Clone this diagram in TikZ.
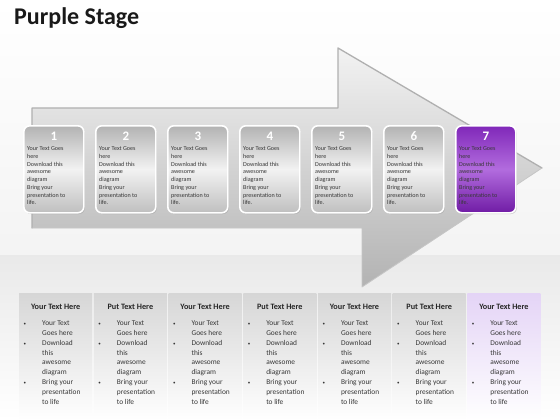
\documentclass[tikz,border=0pt]{standalone}
\usepackage{fontspec}
\setmainfont{Carlito}
\usetikzlibrary{shadows}
\definecolor{txtgrey}{RGB}{55,55,55}
\definecolor{purptop}{RGB}{128,40,185}
\definecolor{purpmid}{RGB}{178,108,222}
\definecolor{purpbot}{RGB}{112,28,165}
\definecolor{paleviolet}{RGB}{228,212,246}
\begin{document}
\begin{tikzpicture}[x=1pt, y=-1pt, line join=round, line cap=round,
  cardgrey/.style={draw=white, line width=1.6pt, rounded corners=6pt, minimum width=60pt, minimum height=87pt,
    top color=gray!60, bottom color=gray!50, middle color=gray!10,
    drop shadow={opacity=0.35, shadow xshift=1pt, shadow yshift=-1.2pt}},
  cardpurp/.style={cardgrey, top color=purptop, bottom color=purpbot, middle color=purpmid},
  colgrey/.style={minimum width=73pt, minimum height=127pt, inner sep=0pt, top color=gray!32, bottom color=white},
  colpurp/.style={colgrey, top color=paleviolet, bottom color=white},
  numtxt/.style={text=white, font=\fontsize{13}{14}\selectfont\bfseries},
  cardtxt/.style={text=txtgrey, inner sep=0pt, align=left, font=\fontsize{6.1}{7.75}\selectfont},
  headtxt/.style={text=black!85, font=\fontsize{8.2}{9}\selectfont\bfseries},
  listtxt/.style={text=txtgrey, inner sep=0pt, font=\fontsize{7.4}{9.85}\selectfont}]
 % background
 \useasboundingbox (0,0) rectangle (560,420);
 \shade[top color=white, bottom color=gray!9] (0,0) rectangle (560,255);
 \shade[top color=gray!17, bottom color=white] (0,255) rectangle (560,420);
 \node[anchor=west, inner sep=0pt, text=black!90, font=\fontsize{24}{28}\selectfont\bfseries] (title) at (14,18) {Purple Stage};
 % big arrow
 \shade[top color=gray!10, bottom color=gray!60] (32,108)--(338,108)--(338,48)--(542,168)--(362,287)--(362,228)--(32,228)--cycle;
 \draw[gray!62, line width=1.3pt] (32,228)--(32,108)--(338,108)--(338,48)--(542,168);
 \draw[gray!45, line width=0.8pt] (542,168)--(362,287)--(362,228)--(32,228);
 % steps
 \foreach \i/\st in {1/grey,2/grey,3/grey,4/grey,5/grey,6/grey,7/purp} {
  \node[card\st, anchor=north west] (card\i) at ({23+72*(\i-1)},125) {};
  \node[numtxt] (num\i) at ([yshift=-11pt]card\i.north) {\i};
  \node[cardtxt, anchor=north west] (txt\i) at ([xshift=4pt,yshift=-21.5pt]card\i.north west)
   {Your Text Goes\\here\\Download this\\awesome\\diagram\\Bring your\\presentation to\\life.};
 }
 % text columns
 \foreach \i/\st/\hd in {1/grey/Your,2/grey/Put,3/grey/Your,4/grey/Put,5/grey/Your,6/grey/Put,7/purp/Your} {
  \node[col\st, anchor=north west] (col\i) at ({19+74.7*(\i-1)},293) {};
  \node[headtxt] (head\i) at ([yshift=-14pt]col\i.north) {\hd{} Text Here};
  \node[listtxt, anchor=north west] (list\i) at ([xshift=4.5pt,yshift=-25.5pt]col\i.north west)
   {\begin{tabular}{@{}p{18.5pt}@{}l@{}}
    {\tiny\textbullet} & Your Text\\ & Goes here\\
    {\tiny\textbullet} & Download\\ & this\\ & awesome\\ & diagram\\
    {\tiny\textbullet} & Bring your\\ & presentation\\ & to life
   \end{tabular}};
 }
\end{tikzpicture}
\end{document}
